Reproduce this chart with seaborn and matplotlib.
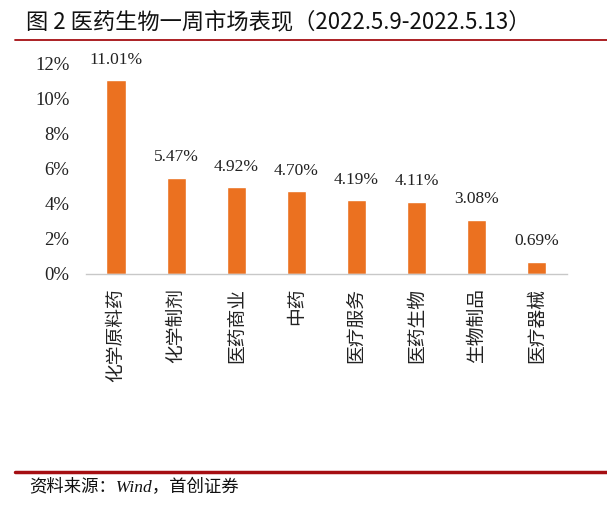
import matplotlib
matplotlib.use("Agg")
import matplotlib.pyplot as plt
import seaborn as sns
import pandas as pd
from matplotlib.lines import Line2D

categories = ["化学原料药", "化学制剂", "医药商业", "中药", "医疗服务", "医药生物", "生物制品", "医疗器械"]
values = [11.01, 5.47, 4.92, 4.70, 4.19, 4.11, 3.08, 0.69]
yticks = [0, 2, 4, 6, 8, 10, 12]
title = "图 2 医药生物一周市场表现（2022.5.9-2022.5.13）"
source = "资料来源：Wind，首创证券"

sns.set_theme(style="white")
plt.rcParams['font.family'] = ['Noto Sans CJK SC', 'DejaVu Sans']

df = pd.DataFrame({"cat": categories, "val": values})

fig = plt.figure(figsize=(6.07, 5.11), dpi=100)
ax = fig.add_axes([0.1417, 0.4638, 0.7923, 0.4129])
sns.barplot(data=df, x="cat", y="val", color="#EB7120", saturation=1, width=0.32, ax=ax)
ax.set_ylim(0, 12)
ax.set_xlim(-0.5, len(categories) - 0.5)
ax.set_yticks(yticks)
ax.set_yticklabels([f"{t}%" for t in yticks], family="Liberation Serif", fontsize=13.5, color="#222222")
ax.set_xticks(range(len(categories)))
ax.set_xticklabels(categories, rotation=90, fontsize=13.5, color="#222222")
ax.set_xlabel("")
ax.set_ylabel("")
ax.tick_params(axis="both", length=0)
ax.tick_params(axis="y", pad=12)
ax.tick_params(axis="x", pad=10)
for s in ["top", "right", "left"]:
    ax.spines[s].set_visible(False)
ax.spines["bottom"].set_color("#C8C8C8")
ax.spines["bottom"].set_linewidth(1)

for i, v in enumerate(values):
    ax.annotate(f"{v:.2f}%", (i, v), xytext=(0, 9), textcoords="offset points",
                ha="center", va="bottom", family="Liberation Serif", fontsize=12.5, color="#222222")

fig.text(0.043, 0.957, title, fontsize=16, ha="left", va="center", color="#111111")
fig.add_artist(Line2D([0.025, 1.0], [0.921, 0.921], color="#A50E12", lw=1.3, transform=fig.transFigure))
fig.add_artist(Line2D([0.025, 1.0], [0.0763, 0.0763], color="#A50E12", lw=2.5, transform=fig.transFigure))
fig.text(0.048, 0.045, source, fontsize=12.5, ha="left", va="center", color="#111111", style="italic",
         family=["Liberation Serif", "Noto Sans CJK SC"])

fig.savefig("out.png", dpi=100)
